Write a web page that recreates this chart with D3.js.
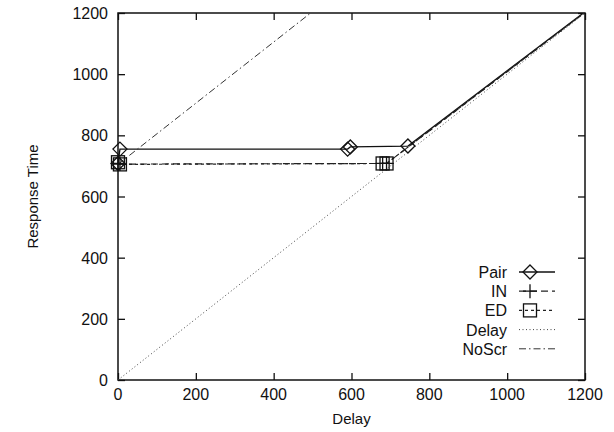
<!DOCTYPE html>
<html>
<head>
<meta charset="utf-8">
<script src="https://cdn.jsdelivr.net/npm/d3@7"></script>
<style>
  body { margin: 0; background: #fff; }
  svg { display: block; }
</style>
</head>
<body>
<svg></svg>
<script>
// data
const xTicks = [0, 200, 400, 600, 800, 1000, 1200];
const yTicks = [0, 200, 400, 600, 800, 1000, 1200];

const pairPts = [[0, 708], [5, 755], [590, 755], [597, 762], [745, 765], [1600, 1590]];
const inPts   = [[0, 708], [5, 706], [680, 708], [690, 708], [1600, 1590]];
const edPts   = [[0, 712], [5, 705], [680, 708], [690, 708], [1600, 1590]];
const delayPts = [[0, 0], [1200, 1200]];
const noScrPts = [[0, 705], [600, 1305]];

const seriesNames = ["Pair", "IN", "ED", "Delay", "NoScr"];

const width = 614, height = 432;
const margin = { top: 13, right: 29, bottom: 52, left: 118 };
const innerWidth = width - margin.left - margin.right;
const innerHeight = height - margin.top - margin.bottom;
const fontFamily = "'Liberation Sans', Arial, sans-serif";

const xScale = d3.scaleLinear().domain([0, 1200]).range([0, innerWidth]);
const yScale = d3.scaleLinear().domain([0, 1200]).range([innerHeight, 0]);

const svg = d3.select("svg").attr("width", width).attr("height", height)
    .attr("font-family", fontFamily);

svg.append("defs").append("clipPath").attr("id", "plotclip")
    .append("rect").attr("width", innerWidth).attr("height", innerHeight);

const g = svg.append("g").attr("transform", `translate(${margin.left},${margin.top})`);

// inward ticks on all four sides (labels drawn separately below)
const tickLen = 7;
g.append("g").attr("transform", `translate(0,${innerHeight})`)
    .call(d3.axisBottom(xScale).tickValues(xTicks).tickSizeInner(-tickLen).tickSizeOuter(0));
g.append("g")
    .call(d3.axisLeft(yScale).tickValues(yTicks).tickSizeInner(-tickLen).tickSizeOuter(0));
g.append("g")
    .call(d3.axisTop(xScale).tickValues(xTicks).tickSizeInner(-tickLen).tickSizeOuter(0));
g.append("g").attr("transform", `translate(${innerWidth},0)`)
    .call(d3.axisRight(yScale).tickValues(yTicks).tickSizeInner(-tickLen).tickSizeOuter(0));

g.selectAll(".tick text").remove();
g.selectAll(".domain").remove();
g.selectAll(".tick line").attr("stroke", "#111").attr("stroke-width", 1.3);

// tick labels
g.selectAll("text.xlab").data(xTicks).enter().append("text")
    .attr("class", "xlab")
    .attr("x", d => xScale(d)).attr("y", innerHeight + 20)
    .attr("text-anchor", "middle").attr("font-size", 16).attr("fill", "#111")
    .text(d => d);
g.selectAll("text.ylab").data(yTicks).enter().append("text")
    .attr("class", "ylab")
    .attr("x", -10).attr("y", d => yScale(d) + 6)
    .attr("text-anchor", "end").attr("font-size", 16).attr("fill", "#111")
    .text(d => d);

g.append("rect")
    .attr("width", innerWidth).attr("height", innerHeight)
    .attr("fill", "none").attr("stroke", "#111").attr("stroke-width", 1.5);

// axis titles
svg.append("text")
    .attr("x", margin.left + innerWidth / 2).attr("y", 424)
    .attr("text-anchor", "middle").attr("font-size", 15).attr("fill", "#111")
    .text("Delay");
svg.append("text")
    .attr("transform", `translate(38,${margin.top + innerHeight / 2}) rotate(-90)`)
    .attr("text-anchor", "middle").attr("font-size", 15).attr("fill", "#111")
    .text("Response Time");

const line = d3.line().x(d => xScale(d[0])).y(d => yScale(d[1]));
const plot = g.append("g").attr("clip-path", "url(#plotclip)");

const styles = {
    Pair:  { dash: null,        width: 1.3, color: "#111" },
    IN:    { dash: "7,4",       width: 1.2, color: "#222" },
    ED:    { dash: "3,3",       width: 1.2, color: "#222" },
    Delay: { dash: "1,2.5",     width: 1.0, color: "#444" },
    NoScr: { dash: "7,3,1.5,3", width: 1.0, color: "#333" }
};
const seriesData = { Pair: pairPts, IN: inPts, ED: edPts, Delay: delayPts, NoScr: noScrPts };

seriesNames.forEach(name => {
    const s = styles[name];
    plot.append("path")
        .datum(seriesData[name])
        .attr("fill", "none")
        .attr("stroke", s.color)
        .attr("stroke-width", s.width)
        .attr("stroke-dasharray", s.dash)
        .attr("d", line);
});

// markers
function drawMarker(sel, type, x, y) {
    const c = sel.append("g").attr("transform", `translate(${x},${y})`)
        .attr("fill", "none").attr("stroke", "#111").attr("stroke-width", 1.3);
    if (type === "Pair") {
        c.append("path").attr("d", "M0,-7L7,0L0,7L-7,0Z");
    } else if (type === "IN") {
        c.append("path").attr("d", "M-7,0H7M0,-7V7");
    } else if (type === "ED") {
        c.append("rect").attr("x", -6.5).attr("y", -6.5).attr("width", 13).attr("height", 13);
    }
}

const markerSeries = ["Pair", "IN", "ED"];
markerSeries.forEach(name => {
    seriesData[name]
        .filter(d => d[0] <= 1200 && d[1] <= 1200)
        .forEach(d => drawMarker(g, name, xScale(d[0]), yScale(d[1])));
});

// legend
const legend = svg.append("g");
seriesNames.forEach((name, i) => {
    const y = 272 + i * 19.2;
    const s = styles[name];
    legend.append("text")
        .attr("x", 507).attr("y", y + 6)
        .attr("text-anchor", "end").attr("font-size", 16).attr("fill", "#111")
        .text(name);
    legend.append("line")
        .attr("x1", 519).attr("x2", 555).attr("y1", y).attr("y2", y)
        .attr("stroke", s.color).attr("stroke-width", s.width)
        .attr("stroke-dasharray", s.dash);
    if (markerSeries.includes(name)) drawMarker(legend, name, 530, y);
});
</script>
</body>
</html>
